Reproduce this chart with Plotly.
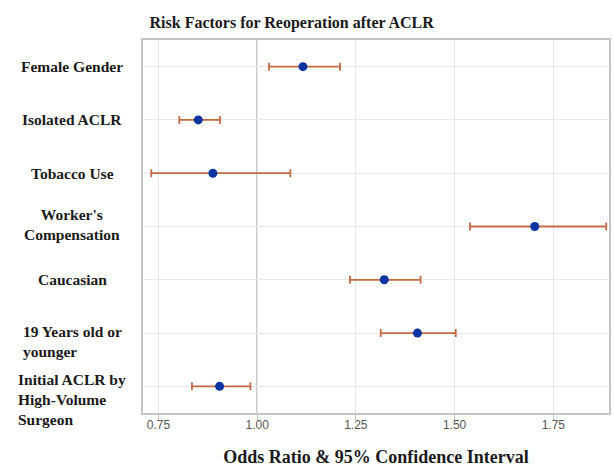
import plotly.graph_objects as go

# Data
categories = [
    "Female Gender",
    "Isolated ACLR",
    "Tobacco Use",
    "Worker's<br>Compensation",
    "Caucasian",
    "19 Years old or<br>younger",
    "Initial ACLR by<br>High-Volume<br>Surgeon",
]
odds_ratio = [1.116, 0.851, 0.888, 1.703, 1.322, 1.406, 0.905]
ci_lower = [1.030, 0.803, 0.732, 1.539, 1.235, 1.313, 0.835]
ci_upper = [1.210, 0.906, 1.084, 1.884, 1.414, 1.503, 0.983]
tick_vals = [0.75, 1.00, 1.25, 1.50, 1.75]
tick_text = ["0.75", "1.00", "1.25", "1.50", "1.75"]

# label styling
label_align = ["center", "center", "center", "center", "center", "left", "left"]
label_yshift = [0, 0, 0, 2, 0, -8, -13]

err_plus = [u - o for u, o in zip(ci_upper, odds_ratio)]
err_minus = [o - l for o, l in zip(odds_ratio, ci_lower)]
ypos = list(range(len(categories)))

fig = go.Figure()
fig.add_trace(go.Scatter(
    x=odds_ratio,
    y=ypos,
    mode="markers",
    marker=dict(color="#0a35a0", size=9),
    error_x=dict(type="data", symmetric=False, array=err_plus, arrayminus=err_minus,
                 color="#c46a45", thickness=1.8, width=4),
    showlegend=False,
    hoverinfo="skip",
))

fig.add_vline(x=1.0, line=dict(color="#a8a8a8", width=1.5), layer="below")

for i, (lab, al, ys) in enumerate(zip(categories, label_align, label_yshift)):
    fig.add_annotation(
        x=0, xref="paper", y=ypos[i], yref="y",
        xshift=-71, yshift=ys,
        xanchor="center", yanchor="middle",
        text="<b>" + lab.replace("<br>", "</b><br><b>") + "</b>", align=al, showarrow=False,
        font=dict(family="Liberation Serif, Times New Roman, serif", size=15.5, color="#1a1a1a"),
    )

fig.update_layout(
    width=614, height=467,
    margin=dict(l=143, r=3, t=40, b=53),
    paper_bgcolor="white",
    plot_bgcolor="white",
    title=dict(
        text="<b>Risk Factors for Reoperation after ACLR</b>",
        x=0.475, xref="container", xanchor="center",
        y=1 - 22 / 467, yref="container", yanchor="middle",
        font=dict(family="Liberation Serif, Times New Roman, serif", size=16, color="#1a1a1a"),
    ),
    xaxis=dict(
        range=[0.711, 1.891],
        tickvals=tick_vals, ticktext=tick_text,
        showgrid=True, gridcolor="#e8e8e8", gridwidth=1,
        zeroline=False,
        showline=True, linecolor="#c4c4c4", linewidth=1.5, mirror=True,
        ticks="outside", ticklen=5, tickcolor="#c4c4c4",
        ticklabelstandoff=-5,
        tickfont=dict(family="Liberation Sans, Arial, sans-serif", size=12, color="#555555"),
        title=dict(
            text="<b>Odds Ratio & 95% Confidence Interval</b>",
            font=dict(family="Liberation Serif, Times New Roman, serif", size=18, color="#1a1a1a"),
            standoff=19,
        ),
    ),
    yaxis=dict(
        range=[len(categories) - 0.5, -0.5],
        tickvals=ypos, showticklabels=False,
        showgrid=True, gridcolor="#e8e8e8", gridwidth=1,
        zeroline=False,
        showline=True, linecolor="#c4c4c4", linewidth=1.5, mirror=True,
        ticks="",
    ),
)

fig.write_html("out.html", config={"displayModeBar": False},
               post_script="document.body.style.margin='0';document.body.style.overflow='hidden';")
